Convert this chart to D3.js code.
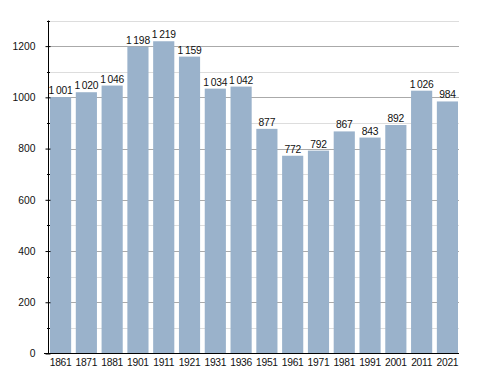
<!DOCTYPE html>
<html>
<head>
<meta charset="utf-8">
<script src="https://cdn.jsdelivr.net/npm/d3@7"></script>
<style>
  body { margin: 0; background: #fff; }
  text { font-family: "Liberation Sans", Arial, sans-serif; font-size: 10.3px; fill: #111; }
</style>
</head>
<body>
<div id="mychart"></div>
<script>
const years = ["1861", "1871", "1881", "1901", "1911", "1921", "1931", "1936", "1951", "1961", "1971", "1981", "1991", "2001", "2011", "2021"];
const population = [1001, 1020, 1046, 1198, 1219, 1159, 1034, 1042, 877, 772, 792, 867, 843, 892, 1026, 984];
const majorTicks = [0, 200, 400, 600, 800, 1000, 1200];
const minorTicks = [100, 300, 500, 700, 900, 1100, 1300];

const width = 488;
const height = 373;
const plotLeft = 48, plotRight = 458, plotTop = 20.5, plotBottom = 353.5;

const svg = d3.select("#mychart")
    .append("svg")
    .attr("width", width)
    .attr("height", height);

const x = d3.scaleBand()
    .domain(years)
    .range([plotLeft + 2, plotRight])
    .paddingInner(0.18)
    .paddingOuter(0);

const y = d3.scaleLinear()
    .domain([0, 1300])
    .range([plotBottom, plotTop]);

// grid lines
svg.selectAll(".minor")
    .data(minorTicks)
    .enter()
    .append("line")
    .attr("x1", plotLeft)
    .attr("x2", plotRight + 1)
    .attr("y1", d => Math.round(y(d)) + 0.5)
    .attr("y2", d => Math.round(y(d)) + 0.5)
    .attr("stroke", "#dddddd");

svg.selectAll(".major")
    .data(majorTicks.filter(d => d > 0))
    .enter()
    .append("line")
    .attr("x1", plotLeft)
    .attr("x2", plotRight + 1)
    .attr("y1", d => Math.round(y(d)) + 0.5)
    .attr("y2", d => Math.round(y(d)) + 0.5)
    .attr("stroke", "#aaaaaa");

// bars
svg.selectAll("rect")
    .data(population)
    .enter()
    .append("rect")
    .attr("x", (d, i) => x(years[i]))
    .attr("y", d => y(d))
    .attr("width", x.bandwidth())
    .attr("height", d => plotBottom - y(d))
    .attr("fill", "#9ab2cb");

// value labels
const fmt = d => d >= 1000 ? Math.floor(d / 1000) + "\u2009" + String(d % 1000).padStart(3, "0") : String(d);

svg.selectAll(".val")
    .data(population)
    .enter()
    .append("text")
    .attr("x", (d, i) => x(years[i]) + x.bandwidth() / 2)
    .attr("y", d => y(d) - 3)
    .attr("text-anchor", "middle")
    .style("letter-spacing", "-0.2px")
    .text(fmt);

// y axis
const yAxis = d3.axisLeft(y)
    .tickValues(majorTicks)
    .tickSize(4)
    .tickPadding(9)
    .tickFormat(d => d);

const gy = svg.append("g")
    .attr("transform", `translate(${plotLeft + 0.5},0)`)
    .call(yAxis);
gy.select(".domain").remove();
gy.selectAll("text").style("font-size", "10.3px").style("font-family", "Liberation Sans, Arial, sans-serif").attr("fill", "#111");
gy.selectAll(".tick line").attr("x2", -3).attr("x1", 2);

svg.append("line")
    .attr("x1", plotLeft + 0.5).attr("x2", plotLeft + 0.5)
    .attr("y1", plotTop).attr("y2", plotBottom)
    .attr("stroke", "#000");

svg.selectAll(".mtick")
    .data(minorTicks)
    .enter()
    .append("line")
    .attr("x1", plotLeft - 1).attr("x2", plotLeft + 2)
    .attr("y1", d => Math.round(y(d)) + 0.5)
    .attr("y2", d => Math.round(y(d)) + 0.5)
    .attr("stroke", "#000");

// x axis line
svg.append("line")
    .attr("x1", plotLeft - 4).attr("x2", plotRight + 1)
    .attr("y1", plotBottom).attr("y2", plotBottom)
    .attr("stroke", "#000")
    .attr("stroke-width", 1.2);

svg.selectAll(".year")
    .data(years)
    .enter()
    .append("text")
    .attr("x", d => x(d) + x.bandwidth() / 2)
    .attr("y", plotBottom + 12)
    .attr("text-anchor", "middle")
    .style("letter-spacing", "-0.3px")
    .text(d => d);
</script>
</body>
</html>
